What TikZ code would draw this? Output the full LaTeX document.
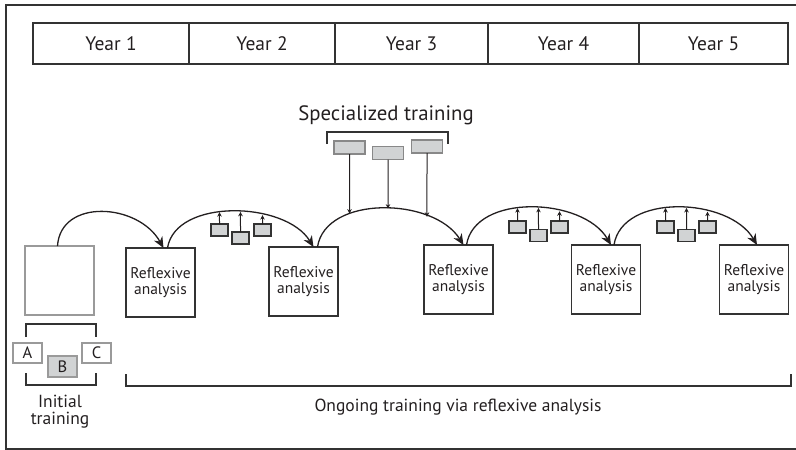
\documentclass[tikz,border=0pt]{standalone}
\usepackage{fontspec}
\setmainfont{PT Sans}
\usetikzlibrary{arrows.meta,intersections}
\definecolor{txt}{HTML}{231F20}
\definecolor{ln}{HTML}{333333}
\definecolor{lgray}{HTML}{9A9A9A}
\definecolor{mgray}{HTML}{888888}
\definecolor{gfill}{HTML}{D1D3D4}
\begin{document}
\begin{tikzpicture}[x=1pt,y=-1pt,
  every node/.style={inner sep=0pt, outer sep=0pt, text=txt},
  yearcell/.style={draw=ln, line width=1.3pt, minimum height=41pt, font=\fontsize{19.5}{22}\selectfont},
  rbox/.style={draw=ln, line width=1.5pt, minimum width=69pt, minimum height=69pt, align=center, font=\fontsize{15.5}{16.5}\selectfont},
  initbox/.style={draw=lgray, line width=1.3pt, minimum width=69pt, minimum height=69pt},
  letterbox/.style={draw=lgray, line width=1.2pt, minimum width=29pt, minimum height=20pt, font=\fontsize{16.5}{18}\selectfont},
  smallbox/.style={draw=ln, fill=gfill, line width=1.4pt, minimum width=17pt, minimum height=12pt},
  specbox/.style={draw=mgray, fill=gfill, line width=1.3pt, minimum width=31pt, minimum height=13pt},
  arcline/.style={draw=txt, line width=1.3pt, -{Stealth[length=11pt,width=9.5pt,inset=3.5pt]}},
  smallarrow/.style={draw=txt, line width=1pt, -{Stealth[length=4.5pt,width=4.5pt]}},
  bracketline/.style={draw=ln, line width=1.3pt},
  label/.style={font=\fontsize{17.5}{17}\selectfont, align=center}
]
\useasboundingbox (0,0) rectangle (796,450);
\clip (0,0) rectangle (796,450);
% outer frame
\draw[ln, line width=1.3pt] (6,5) rectangle (806,449);

% year row
\node[yearcell, minimum width=156pt] (y1) at (111,43.5) {Year 1};
\node[yearcell, minimum width=146pt] (y2) at (262,43.5) {Year 2};
\node[yearcell, minimum width=153pt] (y3) at (411.5,43.5) {Year 3};
\node[yearcell, minimum width=151pt] (y4) at (563.5,43.5) {Year 4};
\node[yearcell, minimum width=149pt] (y5) at (713.5,43.5) {Year 5};

% boxes
\node[initbox] (init) at (59.5,280.5) {};
\node[rbox] (r1) at (160.5,282.5) {Reflexive\\analysis};
\node[rbox] (r2) at (303.5,281.5) {Reflexive\\analysis};
\node[rbox] (r3) at (458.5,279.5) {Reflexive\\analysis};
\node[rbox] (r4) at (606,279.5) {Reflexive\\analysis};
\node[rbox] (r5) at (754,279.5) {Reflexive\\analysis};

% arcs
\draw[arcline, name path=arc1] ([xshift=-2pt]init.north) .. controls +(3,-48) and +(-25,-45) .. ([xshift=3pt]r1.north);
\draw[arcline, name path=arc2] ([xshift=7pt]r1.north) .. controls +(8,-50) and +(-28,-46) .. ([xshift=10pt]r2.north);
\draw[arcline, name path=arc3] ([xshift=14pt]r2.north) .. controls +(8,-52) and +(-30,-48) .. ([xshift=5pt]r3.north);
\draw[arcline, name path=arc4] ([xshift=8pt]r3.north) .. controls +(8,-52) and +(-28,-48) .. ([xshift=5pt]r4.north);
\draw[arcline, name path=arc5] ([xshift=8pt]r4.north) .. controls +(8,-52) and +(-28,-48) .. ([xshift=3pt]r5.north);

% small boxes on arc 2
\node[smallbox] (a2) at (219.5,230) {};
\node[smallbox] (b2) at (240.5,238) {};
\node[smallbox] (c2) at (262.5,230) {};
% small boxes on arc 4
\node[smallbox] (a4) at (517.5,227) {};
\node[smallbox] (b4) at (538.5,235.5) {};
\node[smallbox] (c4) at (559.5,227) {};
% small boxes on arc 5
\node[smallbox] (a5) at (665.5,227) {};
\node[smallbox] (b5) at (686.5,235.5) {};
\node[smallbox] (c5) at (707.5,227) {};

\foreach \s in {a2,b2,c2}{
  \path[name path=v\s] (\s.north) -- +(0,-60);
  \draw[smallarrow, name intersections={of=arc2 and v\s, by=i\s}] (\s.north) -- (i\s);
}
\foreach \s in {a4,b4,c4}{
  \path[name path=v\s] (\s.north) -- +(0,-60);
  \draw[smallarrow, name intersections={of=arc4 and v\s, by=i\s}] (\s.north) -- (i\s);
}
\foreach \s in {a5,b5,c5}{
  \path[name path=v\s] (\s.north) -- +(0,-60);
  \draw[smallarrow, name intersections={of=arc5 and v\s, by=i\s}] (\s.north) -- (i\s);
}

% specialized training
\node[font=\fontsize{20.8}{22}\selectfont] (spec) at (386,115) {Specialized training};
\draw[bracketline] (327,144) -- (327,132) -- (448,132) -- (448,144);
\node[specbox] (s1) at (349.5,147.5) {};
\node[specbox] (s2) at (388,153) {};
\node[specbox] (s3) at (427,146.5) {};
\foreach \s in {s1,s2,s3}{
  \path[name path=w\s] (\s.south) -- +(0,90);
  \draw[smallarrow, name intersections={of=arc3 and w\s, by=i\s}] (\s.south) -- (i\s);
}

% initial training
\draw[bracketline] (26,337) -- (26,324) -- (96,324) -- (96,337);
\draw[bracketline] (26,373) -- (26,385) -- (96,385) -- (96,373);
\node[letterbox, fill=white] (A) at (27.5,353) {A};
\node[letterbox, fill=white] (C) at (96.5,353) {C};
\node[letterbox, fill=gfill, minimum height=21pt] (B) at (62.5,366.5) {B};
\node[label] (initlab) at (60,412) {Initial\\training};

% ongoing training
\draw[bracketline] (126,374) -- (126,386) -- (791,386) -- (791,374);
\node[label] (ongoing) at (458,407) {Ongoing training via reflexive analysis};
\end{tikzpicture}
\end{document}
